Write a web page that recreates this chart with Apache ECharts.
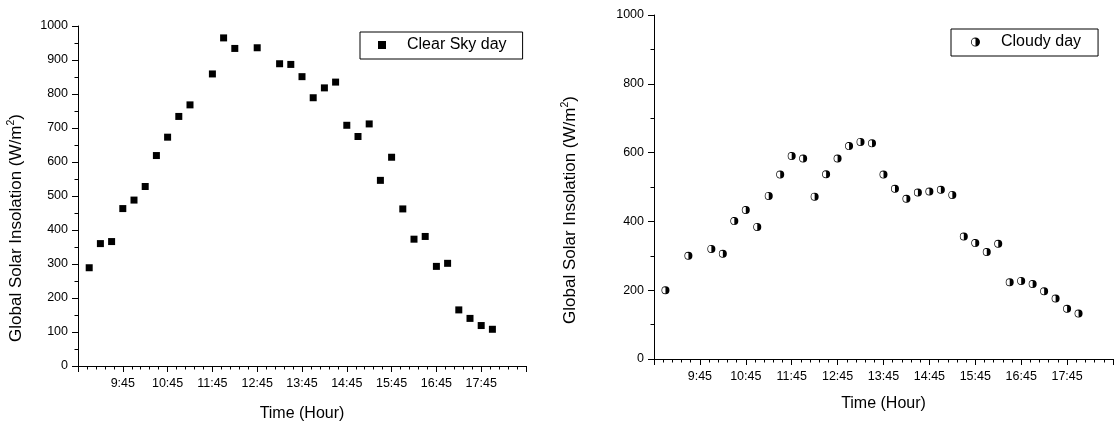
<!DOCTYPE html>
<html>
<head>
<meta charset="utf-8">
<script src="https://cdn.jsdelivr.net/npm/echarts@6/dist/echarts.min.js"></script>
<style>
html,body{margin:0;padding:0;background:#fff;}
#c{width:1116px;height:427px;}
</style>
</head>
<body>
<div id="c"></div>
<script>
// ---- data ----
const clearTimes = ['9:00','9:15','9:30','9:45','10:00','10:15','10:30','10:45','11:00','11:15','11:45','12:00','12:15','12:45','13:15','13:30','13:45','14:00','14:15','14:30','14:45','15:00','15:15','15:30','15:45','16:00','16:15','16:30','16:45','17:00','17:15','17:30','17:45','18:00'];
const clearValues = [289,360,366,463,488,528,619,673,734,768,859,965,934,936,889,887,851,789,818,835,708,675,712,546,614,462,373,381,293,302,165,140,119,108];
const cloudyTimes = ['9:00','9:30','10:00','10:15','10:30','10:45','11:00','11:15','11:30','11:45','12:00','12:15','12:30','12:45','13:00','13:15','13:30','13:45','14:00','14:15','14:30','14:45','15:00','15:15','15:30','15:45','16:00','16:15','16:30','16:45','17:00','17:15','17:30','17:45','18:00'];
const cloudyValues = [200,300,320,306,401,433,384,474,536,590,583,472,537,583,619,631,627,536,495,466,484,487,492,477,356,337,311,335,223,227,218,197,176,146,132];
const xTickLabels = ['','9:45','10:45','11:45','12:45','13:45','14:45','15:45','16:45','17:45',''];
const seriesNames = ['Clear Sky day','Cloudy day'];
const yTitle = 'Global Solar Insolation (W/m';
const xTitle = 'Time (Hour)';

// axis origin 8:45 -> offset minutes
const ORIGIN = 8*60+45;
function toX(t){const p=t.split(':');return (+p[0])*60+(+p[1])-ORIGIN;}
const clearData = clearTimes.map((t,i)=>[toX(t),clearValues[i]]);
const cloudyData = cloudyTimes.map((t,i)=>[toX(t),cloudyValues[i]]);

const halfCircle = 'path://M0,-10 A10,10 0 0,1 0,10 Z M0,-10 A10,10 0 0,0 0,10 L0,8.3 A8.3,8.3 0 0,1 0,-8.3 Z';
const FONT = 'Liberation Sans, Arial, sans-serif';

function xAxis(gridIndex){
  return {
    type:'value', gridIndex, min:0, max:600, interval:60,
    axisLine:{lineStyle:{color:'#000',width:1}},
    axisTick:{length:6,lineStyle:{color:'#000'}},
    minorTick:{show:true,splitNumber:5,length:3.5,lineStyle:{color:'#000'}},
    splitLine:{show:false},
    axisLabel:{color:'#000',fontSize:12.5,fontFamily:FONT,margin:11,
      formatter:(v)=>xTickLabels[Math.round(v/60)]||''},
    name:xTitle, nameLocation:'middle', nameGap: gridIndex===0?40:37,
    nameTextStyle:{color:'#000',fontSize:16,fontFamily:FONT}
  };
}
function yAxis(gridIndex, interval, gap, shift){
  return {
    type:'value', gridIndex, min:0, max:1000, interval,
    axisLine:{show:true,lineStyle:{color:'#000',width:1}},
    axisTick:{length:6,lineStyle:{color:'#000'}},
    minorTick:{show:true,splitNumber:2,length:3.5,lineStyle:{color:'#000'}},
    splitLine:{show:false},
    axisLabel:{color:'#000',fontSize:12.5,fontFamily:FONT,margin:10,formatter:(v)=>String(v)},
    name:'{a|'+yTitle+'}{s|2}{a|)}', nameLocation:'middle', nameGap:gap,
    nameTextStyle:{color:'#000',fontSize:17,fontFamily:FONT,padding:[0,shift,0,0],
      rich:{a:{fontSize:17,fontFamily:FONT,color:'#000'},s:{fontSize:10.5,fontFamily:FONT,color:'#000',verticalAlign:'top',padding:[0,0,9,0]}}}
  };
}

const chart = echarts.init(document.getElementById('c'),null,{renderer:'canvas'});
chart.setOption({
  animation:false,
  backgroundColor:'#fff',
  grid:[
    {left:78,top:26,width:448,height:340},
    {left:654,top:15,width:463,height:344}
  ],
  xAxis:[xAxis(0),xAxis(1)],
  yAxis:[yAxis(0,100,52,64),yAxis(1,200,74,46)],
  legend:[
    {data:[{name:seriesNames[0],icon:'rect'}],left:360,top:32,orient:'vertical',
     itemWidth:8,itemHeight:8,borderColor:'#000',borderWidth:1,padding:[5,16,6,18],
     textStyle:{color:'#000',fontSize:16,fontFamily:FONT,padding:[0,0,0,16]}},
    {data:[{name:seriesNames[1],icon:halfCircle}],left:951,top:29,orient:'vertical',
     itemWidth:9,itemHeight:9,borderColor:'#000',borderWidth:1,padding:[5,17,6,20],
     textStyle:{color:'#000',fontSize:16,fontFamily:FONT,padding:[0,0,0,16]}}
  ],
  series:[
    {type:'scatter',name:seriesNames[0],xAxisIndex:0,yAxisIndex:0,data:clearData,
     symbol:'rect',symbolSize:7,itemStyle:{color:'#000',opacity:1}},
    {type:'scatter',name:seriesNames[1],xAxisIndex:1,yAxisIndex:1,data:cloudyData,
     symbol:halfCircle,symbolSize:8,itemStyle:{color:'#000',opacity:1}}
  ]
});
</script>
</body>
</html>
